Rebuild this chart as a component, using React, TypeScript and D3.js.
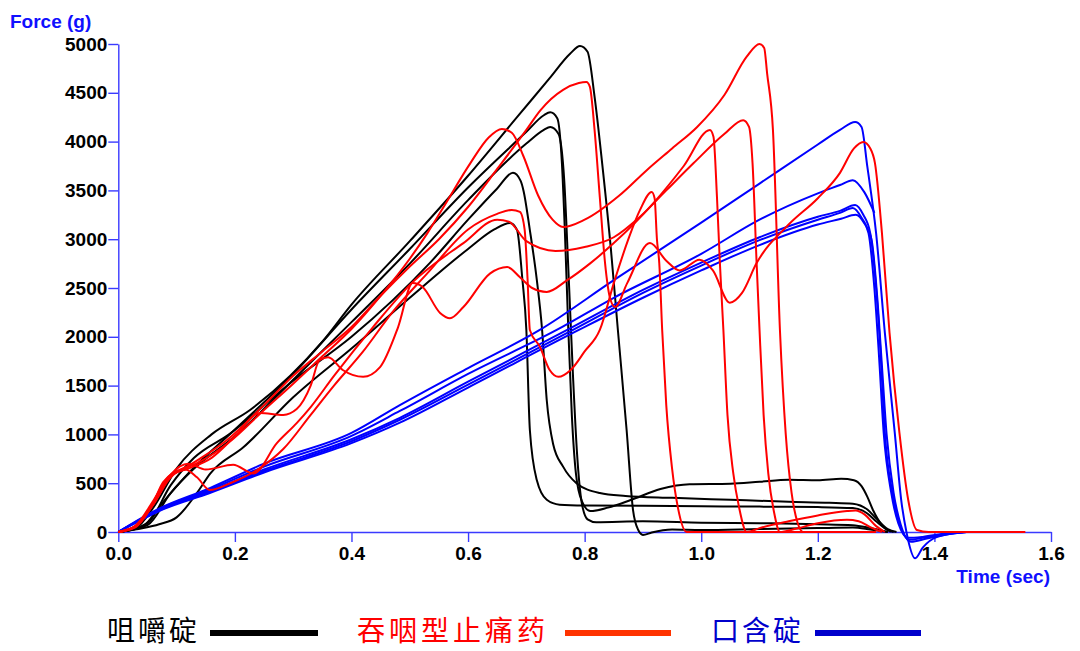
import React, { useEffect, useRef } from 'react';
import * as d3 from 'd3';

type Pt = [number, number];

// 咀嚼碇 — black curves, [time (sec), force (g)]
const chew1: Pt[] = [[0, 0], [0.03, 40], [0.06, 250], [0.1, 650], [0.16, 1000], [0.226, 1250], [0.295, 1600], [0.35, 1950], [0.4, 2330], [0.5, 2980], [0.6, 3650], [0.684, 4250], [0.74, 4650], [0.775, 4900], [0.792, 4980], [0.805, 4920], [0.817, 4460], [0.83, 3780], [0.845, 2900], [0.857, 2070], [0.872, 1045], [0.883, 225], [0.892, 20], [0.9, -30], [0.915, -5], [0.95, 25], [1.0, 20], [1.1, 30], [1.2, 40], [1.26, 45], [1.29, 25], [1.32, 0]];
const chew2: Pt[] = [[0, 0], [0.04, 50], [0.08, 330], [0.12, 600], [0.2, 1050], [0.3, 1620], [0.4, 2280], [0.5, 2900], [0.6, 3530], [0.7, 4100], [0.73, 4270], [0.741, 4300], [0.753, 4240], [0.761, 3780], [0.766, 3094], [0.772, 2070], [0.778, 1200], [0.785, 600], [0.795, 320], [0.81, 215], [0.84, 250], [0.88, 330], [0.93, 440], [0.98, 490], [1.05, 495], [1.1, 515], [1.15, 535], [1.2, 530], [1.24, 545], [1.262, 530], [1.275, 470], [1.285, 360], [1.295, 220], [1.31, 70], [1.325, 0]];
const chew3: Pt[] = [[0, 0], [0.05, 70], [0.09, 400], [0.13, 650], [0.2, 980], [0.3, 1560], [0.4, 2150], [0.5, 2750], [0.6, 3400], [0.7, 3980], [0.73, 4120], [0.741, 4150], [0.755, 4080], [0.765, 3600], [0.772, 2700], [0.78, 1600], [0.787, 800], [0.795, 300], [0.805, 130], [0.82, 100], [0.9, 110], [1.0, 95], [1.1, 90], [1.2, 80], [1.26, 70], [1.29, 40], [1.32, 0]];
const chew4: Pt[] = [[0, 0], [0.05, 90], [0.09, 480], [0.13, 760], [0.19, 1000], [0.3, 1550], [0.4, 2000], [0.535, 2760], [0.6, 3200], [0.65, 3520], [0.677, 3680], [0.69, 3600], [0.695, 3500], [0.706, 3094], [0.718, 2580], [0.727, 2070], [0.735, 1350], [0.746, 900], [0.763, 670], [0.786, 500], [0.826, 400], [0.87, 370], [0.95, 350], [1.05, 330], [1.15, 310], [1.22, 300], [1.26, 290], [1.285, 230], [1.3, 140], [1.32, 30], [1.335, 0]];
const chew5: Pt[] = [[0, 0], [0.043, 40], [0.07, 80], [0.1, 150], [0.135, 400], [0.158, 600], [0.215, 870], [0.3, 1380], [0.4, 1880], [0.5, 2400], [0.6, 2900], [0.645, 3100], [0.672, 3165], [0.684, 3094], [0.693, 2600], [0.7, 2070], [0.706, 1045], [0.718, 530], [0.735, 330], [0.757, 280], [0.8, 272], [0.9, 268], [1.0, 264], [1.1, 260], [1.2, 255], [1.26, 245], [1.285, 190], [1.3, 110], [1.32, 20], [1.33, 0]];

// 吞咽型止痛药 — red curves
const swallow1: Pt[] = [[0, 0], [0.03, 70], [0.06, 320], [0.085, 560], [0.11, 640], [0.14, 720], [0.19, 920], [0.25, 1250], [0.3, 1520], [0.35, 1800], [0.4, 2080], [0.45, 2420], [0.5, 2800], [0.53, 3060], [0.558, 3330], [0.604, 3780], [0.635, 4040], [0.658, 4130], [0.675, 4090], [0.695, 3850], [0.72, 3450], [0.745, 3200], [0.763, 3125], [0.8, 3200], [0.86, 3450], [0.907, 3710], [0.95, 3930], [0.993, 4150], [1.04, 4480], [1.078, 4870], [1.1, 5000], [1.108, 4960], [1.113, 4700], [1.123, 4120], [1.135, 2070], [1.145, 1000], [1.155, 400], [1.165, 100], [1.175, 0], [1.3, 0]];
const swallow2: Pt[] = [[0, 0], [0.03, 60], [0.06, 300], [0.077, 512], [0.128, 705], [0.186, 940], [0.25, 1300], [0.3, 1600], [0.35, 1850], [0.4, 2100], [0.45, 2420], [0.5, 2720], [0.55, 3000], [0.6, 3330], [0.65, 3720], [0.7, 4120], [0.724, 4320], [0.763, 4530], [0.79, 4600], [0.803, 4610], [0.809, 4560], [0.817, 4120], [0.826, 3430], [0.835, 2755], [0.843, 2410], [0.852, 2305], [0.873, 2550], [0.912, 2960], [0.94, 2780], [0.963, 2680], [0.997, 2790], [1.02, 2680], [1.049, 2350], [1.07, 2450], [1.095, 2755], [1.15, 3150], [1.2, 3420], [1.238, 3680], [1.262, 3930], [1.278, 3996], [1.29, 3930], [1.298, 3780], [1.31, 3063], [1.323, 2040], [1.34, 1015], [1.355, 330], [1.37, 20], [1.39, 0], [1.556, 0]];
const swallow3: Pt[] = [[0, 0], [0.03, 50], [0.06, 280], [0.09, 560], [0.115, 640], [0.135, 560], [0.157, 430], [0.192, 500], [0.243, 655], [0.283, 850], [0.33, 1200], [0.37, 1500], [0.42, 1850], [0.47, 2250], [0.53, 2650], [0.6, 3100], [0.65, 3260], [0.675, 3300], [0.689, 3280], [0.697, 3100], [0.702, 2600], [0.706, 2070], [0.723, 1900], [0.74, 1660], [0.755, 1590], [0.776, 1660], [0.8, 1850], [0.826, 2070], [0.85, 2550], [0.875, 3000], [0.895, 3300], [0.915, 3483], [0.92, 3420], [0.924, 3000], [0.928, 2755], [0.933, 2070], [0.94, 1300], [0.95, 650], [0.96, 250], [0.975, 0], [1.3, 0]];
const swallow4: Pt[] = [[0, 0], [0.03, 60], [0.06, 300], [0.09, 580], [0.12, 650], [0.16, 760], [0.2, 980], [0.243, 1220], [0.283, 1200], [0.306, 1260], [0.33, 1500], [0.345, 1760], [0.36, 1790], [0.385, 1660], [0.42, 1590], [0.449, 1690], [0.48, 2100], [0.505, 2550], [0.522, 2510], [0.552, 2245], [0.569, 2190], [0.592, 2305], [0.638, 2650], [0.667, 2715], [0.689, 2610], [0.71, 2500], [0.735, 2460], [0.77, 2580], [0.81, 2755], [0.85, 2960], [0.918, 3370], [0.97, 3750], [1.015, 4120], [1.021, 4050], [1.027, 3430], [1.032, 2755], [1.038, 2070], [1.045, 1200], [1.055, 600], [1.065, 250], [1.078, 0], [1.1, 40], [1.15, 110], [1.2, 170], [1.25, 215], [1.265, 220], [1.28, 180], [1.3, 60], [1.315, 0]];
const swallow5: Pt[] = [[0, 0], [0.03, 60], [0.06, 300], [0.09, 590], [0.12, 700], [0.15, 640], [0.197, 690], [0.232, 600], [0.272, 910], [0.306, 1115], [0.33, 1280], [0.37, 1600], [0.437, 2100], [0.505, 2560], [0.592, 2960], [0.65, 3200], [0.67, 3180], [0.7, 2980], [0.75, 2880], [0.8, 2920], [0.85, 3020], [0.895, 3230], [0.94, 3500], [0.987, 3780], [1.04, 4080], [1.072, 4220], [1.082, 4150], [1.088, 3780], [1.095, 2755], [1.1, 2070], [1.107, 1200], [1.115, 600], [1.125, 200], [1.135, 0], [1.16, 30], [1.2, 90], [1.25, 125], [1.27, 110], [1.29, 50], [1.31, 0]];

// 口含碇 — blue curves
const buccal1: Pt[] = [[0, 0], [0.03, 110], [0.07, 240], [0.157, 450], [0.25, 700], [0.4, 1015], [0.483, 1300], [0.6, 1680], [0.723, 2070], [0.85, 2580], [1.0, 3170], [1.1, 3570], [1.2, 3970], [1.238, 4120], [1.264, 4200], [1.275, 4150], [1.285, 3740], [1.3, 3060], [1.315, 2040], [1.332, 1015], [1.343, 330], [1.352, 0], [1.367, -270], [1.38, -160], [1.405, -50], [1.455, 0]];
const buccal2: Pt[] = [[0, 0], [0.03, 105], [0.07, 235], [0.157, 435], [0.25, 670], [0.4, 985], [0.483, 1240], [0.6, 1620], [0.752, 2070], [0.85, 2400], [1.0, 2850], [1.1, 3200], [1.2, 3470], [1.238, 3555], [1.26, 3605], [1.28, 3480], [1.297, 3270]];
const buccal3: Pt[] = [[0, 0], [0.03, 100], [0.07, 225], [0.157, 420], [0.25, 640], [0.4, 950], [0.483, 1170], [0.6, 1540], [0.77, 2070], [0.9, 2480], [1.0, 2760], [1.1, 3020], [1.2, 3230], [1.238, 3290], [1.264, 3350], [1.278, 3250], [1.29, 3060], [1.3, 2500], [1.308, 1800], [1.315, 1015], [1.328, 400], [1.34, 90], [1.357, -80], [1.38, -60], [1.42, -20], [1.455, 0]];
const buccal4: Pt[] = [[0, 0], [0.03, 95], [0.07, 220], [0.157, 410], [0.25, 625], [0.4, 930], [0.483, 1150], [0.6, 1510], [0.78, 2070], [0.9, 2450], [1.0, 2730], [1.1, 2990], [1.2, 3200], [1.238, 3270], [1.26, 3320], [1.275, 3220], [1.287, 3060], [1.297, 2500], [1.305, 1800], [1.313, 1015], [1.326, 400], [1.338, 90], [1.355, -60], [1.38, -50], [1.42, -15], [1.45, 0]];
const buccal5: Pt[] = [[0, 0], [0.03, 95], [0.07, 215], [0.157, 400], [0.25, 610], [0.4, 910], [0.483, 1120], [0.6, 1480], [0.79, 2070], [0.9, 2400], [1.0, 2680], [1.1, 2940], [1.2, 3150], [1.24, 3210], [1.265, 3250], [1.28, 3160], [1.292, 3000], [1.302, 2400], [1.31, 1700], [1.318, 1000], [1.33, 400], [1.342, 80], [1.36, -100], [1.385, -70], [1.425, -20], [1.455, 0]];

const chewCurves = [chew1, chew2, chew3, chew4, chew5];
const swallowCurves = [swallow1, swallow2, swallow3, swallow4, swallow5];
const buccalCurves = [buccal1, buccal2, buccal3, buccal4, buccal5];

const yTicks = [0, 500, 1000, 1500, 2000, 2500, 3000, 3500, 4000, 4500, 5000];
const xTicks = [0, 0.2, 0.4, 0.6, 0.8, 1.0, 1.2, 1.4, 1.6];
const legendLabels = ['咀嚼碇', '吞咽型止痛药', '口含碇'];

const width = 1080;
const height = 651;
const axisColor = '#3a3aff';
const titleColor = '#1010ff';
const tickFont = '"Liberation Sans", Arial, sans-serif';
const cjkFont = '"Noto Sans CJK SC", sans-serif';

export default function App() {
  const ref = useRef<SVGSVGElement>(null);

  useEffect(() => {
    const svg = d3.select(ref.current);
    svg.selectAll('*').remove();

    const x = d3.scaleLinear().domain([0, 1.6]).range([118.3, 1051]);
    const y = d3.scaleLinear().domain([0, 5000]).range([532, 44]);

    const line = d3.line<Pt>()
      .x((d) => x(d[0]))
      .y((d) => y(d[1]))
      .curve(d3.curveMonotoneX);

    // axes
    svg.append('g')
      .attr('transform', `translate(0,${y(0)})`)
      .call(d3.axisBottom(x).tickValues(xTicks).tickFormat(d3.format('.1f')).tickSize(10).tickSizeOuter(0))
      .call((g: any) => g.select('.domain').attr('stroke', axisColor).attr('stroke-width', 1.4))
      .call((g: any) => g.selectAll('.tick line').attr('stroke', axisColor).attr('stroke-width', 1.4))
      .call((g: any) => g.selectAll('.tick text')
        .attr('fill', '#000')
        .attr('y', 15)
        .attr('dy', '0.71em')
        .style('font-family', tickFont)
        .style('font-size', '19px')
        .style('font-weight', 'bold'));

    svg.append('g')
      .attr('transform', `translate(${x(0)},0)`)
      .call(d3.axisLeft(y).tickValues(yTicks).tickFormat(d3.format('d')).tickSize(10).tickPadding(1).tickSizeOuter(0))
      .call((g: any) => g.select('.domain').attr('stroke', axisColor).attr('stroke-width', 1.4))
      .call((g: any) => g.selectAll('.tick line').attr('stroke', axisColor).attr('stroke-width', 1.4))
      .call((g: any) => g.selectAll('.tick text')
        .attr('fill', '#000')
        .style('font-family', tickFont)
        .style('font-size', '19px')
        .style('font-weight', 'bold'));

    // axis titles
    svg.append('text')
      .attr('x', 10)
      .attr('y', 28)
      .attr('fill', titleColor)
      .style('font-family', tickFont)
      .style('font-size', '19px')
      .style('font-weight', 'bold')
      .text('Force (g)');

    svg.append('text')
      .attr('x', 1050)
      .attr('y', 583)
      .attr('text-anchor', 'end')
      .attr('fill', titleColor)
      .style('font-family', tickFont)
      .style('font-size', '19px')
      .style('font-weight', 'bold')
      .text('Time (sec)');

    // curves
    const groups = [
      { curves: chewCurves, color: '#000000' },
      { curves: buccalCurves, color: '#0000ff' },
      { curves: swallowCurves, color: '#ff0000' },
    ];
    groups.forEach((grp) => {
      svg.append('g')
        .selectAll('path')
        .data(grp.curves)
        .enter()
        .append('path')
        .attr('d', (d) => line(d))
        .attr('fill', 'none')
        .attr('stroke', grp.color)
        .attr('stroke-width', 2)
        .attr('stroke-linejoin', 'round');
    });

    // legend
    const legend = [
      { label: legendLabels[0], textColor: '#000000', lineColor: '#000000', tx: 107, ls: 3, lx: 210, lw: 108 },
      { label: legendLabels[1], textColor: '#ff0000', lineColor: '#ff3300', tx: 357, ls: 4, lx: 565, lw: 106 },
      { label: legendLabels[2], textColor: '#0000cc', lineColor: '#0000cc', tx: 711, ls: 3, lx: 815, lw: 106 },
    ];
    const lg = svg.append('g');
    legend.forEach((item) => {
      lg.append('text')
        .attr('x', item.tx)
        .attr('y', 641)
        .attr('fill', item.textColor)
        .style('font-family', cjkFont)
        .style('font-size', '28px')
        .style('letter-spacing', `${item.ls}px`)
        .text(item.label);
      lg.append('line')
        .attr('x1', item.lx)
        .attr('x2', item.lx + item.lw)
        .attr('y1', 633)
        .attr('y2', 633)
        .attr('stroke', item.lineColor)
        .attr('stroke-width', 6);
    });
  }, []);

  return (
    <div style={{ position: 'absolute', left: 0, top: 0, width, height, background: '#fff' }}>
      <svg ref={ref} width={width} height={height} style={{ display: 'block' }} />
    </div>
  );
}
